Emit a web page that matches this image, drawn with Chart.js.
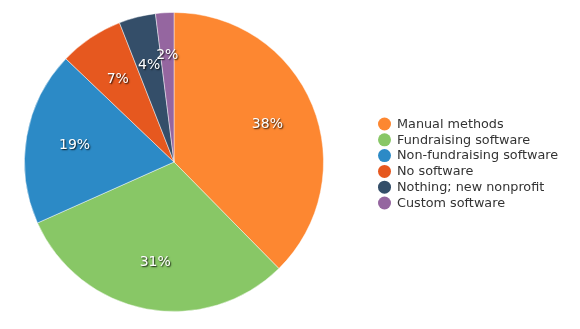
<!DOCTYPE html>
<html>
<head>
<meta charset="utf-8">
<script src="https://cdn.jsdelivr.net/npm/chart.js@4"></script>
<style>
  html, body { margin: 0; padding: 0; background: #fff; }
  #wrap { width: 580px; height: 329px; position: relative; }
</style>
</head>
<body>
<div id="wrap"><canvas id="pie" width="580" height="329"></canvas></div>
<script>
const labels = ["Manual methods", "Fundraising software", "Non-fundraising software", "No software", "Nothing; new nonprofit", "Custom software"];
const values = [38, 31, 19, 7, 4, 2];
const pctLabels = ["38%", "31%", "19%", "7%", "4%", "2%"];
const colors = ["#fd8731", "#88c766", "#2c8ac6", "#e6581f", "#344e69", "#9566a0"];

const font = "DejaVu Sans, Verdana, sans-serif";

// white percentage labels inside slices, plus a legend on the right
const extras = {
  id: "extras",
  afterDatasetsDraw(chart) {
    const ctx = chart.ctx;
    const meta = chart.getDatasetMeta(0);
    ctx.save();
    ctx.font = "14px " + font;
    ctx.textAlign = "center";
    ctx.textBaseline = "middle";
    meta.data.forEach((arc, i) => {
      const mid = (arc.startAngle + arc.endAngle) / 2;
      const k = values[i] < 3 ? 0.72 : 0.675;
      const r = arc.outerRadius * k;
      const x = arc.x + Math.cos(mid) * r;
      const y = arc.y + Math.sin(mid) * r;
      ctx.shadowColor = "rgba(0,0,0,0.85)";
      ctx.shadowBlur = 1.5;
      ctx.shadowOffsetX = 1;
      ctx.shadowOffsetY = 1;
      ctx.fillStyle = "#fff";
      ctx.fillText(pctLabels[i], x, y + 1);
    });
    ctx.restore();

    ctx.save();
    ctx.font = "12.8px " + font;
    ctx.textAlign = "left";
    ctx.textBaseline = "middle";
    labels.forEach((lab, i) => {
      const y = 124 + i * 15.8;
      ctx.beginPath();
      ctx.arc(384.5, y, 6.5, 0, Math.PI * 2);
      ctx.fillStyle = colors[i];
      ctx.fill();
      ctx.fillStyle = "#333";
      ctx.fillText(lab, 397, y + 0.5);
    });
    ctx.restore();
  }
};

new Chart(document.getElementById("pie"), {
  type: "pie",
  data: {
    labels,
    datasets: [{
      data: values,
      backgroundColor: colors,
      borderColor: "rgba(255,255,255,0.45)",
      borderWidth: 1
    }]
  },
  options: {
    responsive: false,
    animation: false,
    layout: { padding: { left: 24, right: 256, top: 12, bottom: 17 } },
    plugins: {
      legend: { display: false },
      tooltip: { enabled: false }
    }
  },
  plugins: [extras]
});
</script>
</body>
</html>
